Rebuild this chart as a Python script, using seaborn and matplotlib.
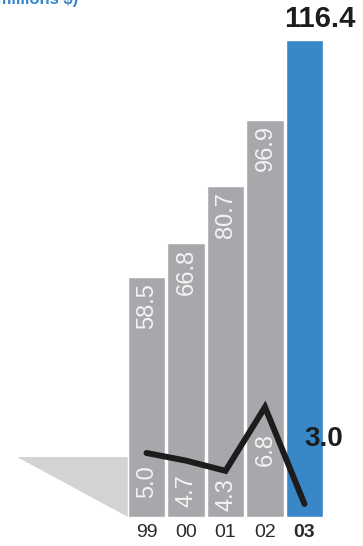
import numpy as np
import pandas as pd
import matplotlib
matplotlib.use("Agg")
import matplotlib.pyplot as plt
import seaborn as sns

# ---- data ----
years = ["99", "00", "01", "02", "03"]
bar_values = [58.5, 66.8, 80.7, 96.9, 116.4]
line_values = [5.0, 4.7, 4.3, 6.8, 3.0]
bar_labels = ["58.5", "66.8", "80.7", "96.9", "116.4"]
line_labels = ["5.0", "4.7", "4.3", "6.8", "3.0"]
title_text = "(millions $)"

sns.set_theme(style="white")
plt.rcParams["font.family"] = ["Liberation Sans", "DejaVu Sans"]

GRAY = "#a7a8ab"
BLUE = "#3a87c8"
TRI = "#d2d3d5"
DARK = "#1c1c1c"
LABEL = "#f4f4f4"

W, H = 363, 546
fig = plt.figure(figsize=(W / 100, H / 100), dpi=100)
bottom_frac = (H - 517) / H
ax = fig.add_axes([0, bottom_frac, 1, 1 - bottom_frac])

df = pd.DataFrame({"year": years, "value": bar_values})
palette = [GRAY] * (len(years) - 1) + [BLUE]
sns.barplot(data=df, x="year", y="value", hue="year", palette=palette,
            legend=False, width=0.95, ax=ax, saturation=1, zorder=2)

bw = 0.95
# decorative wedge to the left of the first bar
ax.fill([-3.28, -bw / 2, -bw / 2], [14.6, 14.6, 0], color=TRI, lw=0, zorder=1)

ax.set_xlim(-3.709, 5.481)
ax.set_ylim(0, 126.1)

# values in bars
for i, (v, lab) in enumerate(zip(bar_values[:-1], bar_labels[:-1])):
    ax.annotate(lab, (i, v), xytext=(0.5, -4), textcoords="offset points",
                rotation=90, ha="center", va="top", color=LABEL,
                fontsize=17, zorder=4)
ax.annotate(bar_labels[-1], (len(years) - 1, bar_values[-1]), xytext=(11, 5),
            textcoords="offset points", ha="center", va="bottom",
            color=DARK, fontsize=21, fontweight="bold", zorder=4)

# line on secondary scale
ax2 = ax.twinx()
xs = np.arange(len(years))
sns.lineplot(x=xs, y=line_values, ax=ax2, color=DARK, lw=4.3,
             solid_capstyle="round", solid_joinstyle="miter", zorder=5)
ax2.set_ylim(2.49, 22.76)
ax2.set_xlim(-3.709, 5.481)

gaps = [9, 10, 5, 19]
for i, (v, lab) in enumerate(zip(line_values[:-1], line_labels[:-1])):
    ax2.annotate(lab, (i, v), xytext=(0.5, -gaps[i]), textcoords="offset points",
                 rotation=90, ha="center", va="top", color=LABEL,
                 fontsize=17, zorder=4)
ax2.annotate(line_labels[-1], (len(years) - 1, line_values[-1]), xytext=(14, 47),
             textcoords="offset points", ha="center", va="center",
             color=DARK, fontsize=20, fontweight="bold", zorder=6)

for a in (ax, ax2):
    for s in a.spines.values():
        s.set_visible(False)
    a.set_yticks([])
    a.set_ylabel("")
    a.set_xlabel("")
ax2.tick_params(axis="x", length=0, labelbottom=False)

ax.tick_params(axis="x", length=0, pad=5, labelsize=14, colors="#2a2a2a")
ax.set_xticks(range(len(years)))
ax.set_xticklabels(years)
ax.get_xticklabels()[-1].set_fontweight("bold")

fig.text(78 / W, 1 - 4 / H, title_text, ha="right", va="baseline",
         color=BLUE, fontsize=12, fontweight="bold")

fig.savefig("out.png", dpi=100)
